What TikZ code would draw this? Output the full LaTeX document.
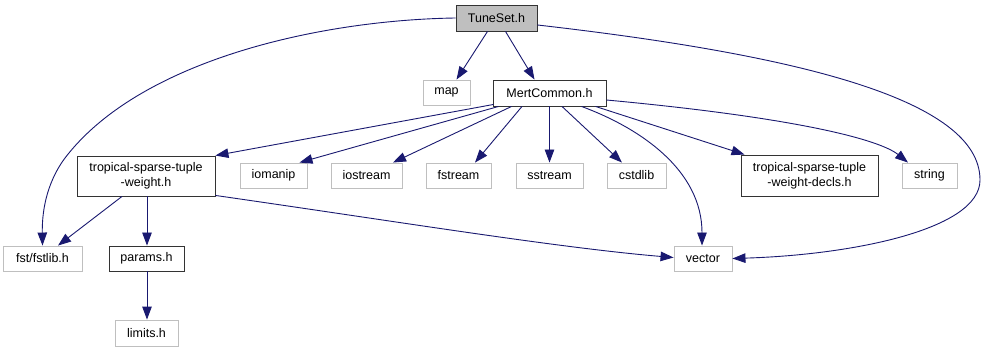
\documentclass[tikz,border=0pt]{standalone}
\usepackage{fontspec}
\setmainfont{Liberation Sans}
\usetikzlibrary{arrows.meta}
\definecolor{edgeblue}{HTML}{191970}
\definecolor{extgray}{HTML}{BFBFBF}
\definecolor{curfill}{HTML}{BFBFBF}
\begin{document}
\begin{tikzpicture}[x=1pt,y=-1pt,
  file/.style={draw=black!80, line width=0.9pt, fill=white, inner sep=0pt,
    align=center, font=\fontsize{12.5}{15}\selectfont},
  extfile/.style={file, draw=extgray},
  curfile/.style={file, fill=curfill},
  dep/.style={draw=edgeblue, line width=0.9pt,
    -{Triangle[length=13pt,width=9.5pt,fill=edgeblue]}}]
\useasboundingbox[fill=white] (0,0) rectangle (984,352);

% files
\node[curfile, minimum width=81pt, minimum height=26pt] (tune) at (496.5,18) {TuneSet.h};
\node[extfile, minimum width=47pt, minimum height=25pt] (map) at (446.5,92.5) {map};
\node[file, minimum width=113pt, minimum height=26pt] (mert) at (549.5,93) {MertCommon.h};
\node[file, minimum width=138pt, minimum height=40pt] (tstw) at (146,176) {tropical-sparse-tuple\\-weight.h};
\node[extfile, minimum width=67pt, minimum height=25pt] (iomanip) at (273.5,175.5) {iomanip};
\node[extfile, minimum width=71pt, minimum height=25pt] (iostream) at (366.5,175.5) {iostream};
\node[extfile, minimum width=65pt, minimum height=25pt] (fstream) at (458.5,175.5) {fstream};
\node[extfile, minimum width=67pt, minimum height=25pt] (sstream) at (549.5,175.5) {sstream};
\node[extfile, minimum width=59pt, minimum height=25pt] (cstdlib) at (636.5,175.5) {cstdlib};
\node[file, minimum width=137pt, minimum height=41pt] (decls) at (809.5,175.5) {tropical-sparse-tuple\\-weight-decls.h};
\node[extfile, minimum width=55pt, minimum height=25pt] (string) at (929.5,175.5) {string};
\node[extfile, minimum width=58pt, minimum height=25pt] (vector) at (703,258.5) {vector};
\node[extfile, minimum width=79pt, minimum height=25pt] (fstlib) at (42.5,258.5) {fst/fstlib.h};
\node[file, minimum width=75pt, minimum height=25pt] (params) at (146.5,258.5) {params.h};
\node[extfile, minimum width=63pt, minimum height=26pt] (limits) at (146.5,333) {limits.h};

% includes of TuneSet.h
\draw[dep] ([xshift=-9pt]tune.south) -- ([xshift=10pt]map.north);
\draw[dep] ([xshift=9pt]tune.south) -- ([xshift=-15pt]mert.north);
\draw[dep] (tune.west) .. controls (320,20) and (140,60) .. (65,158)
  .. controls (45,185) and (42,215) .. (fstlib.north);
\draw[dep] ([yshift=-7pt]tune.east) .. controls (800,55) and (980,100) .. (980,180)
  .. controls (980,230) and (850,255) .. (vector.east);

% includes of MertCommon.h
\draw[dep] ([xshift=1pt,yshift=2pt]mert.south west) -- (tstw.north east);
\draw[dep] ([xshift=6pt]mert.south west) -- ([xshift=26pt]iomanip.north);
\draw[dep] ([xshift=19pt]mert.south west) -- ([xshift=26.5pt]iostream.north);
\draw[dep] ([xshift=-27.5pt]mert.south) -- ([xshift=16.5pt]fstream.north);
\draw[dep] (mert.south) -- (sstream.north);
\draw[dep] ([xshift=12.5pt]mert.south) -- ([xshift=-14.5pt]cstdlib.north);
\draw[dep] ([xshift=32pt]mert.south) .. controls (640,128) and (702,170) .. ([xshift=-1pt]vector.north);
\draw[dep] ([xshift=46pt]mert.south) -- ([xshift=-65pt]decls.north);
\draw[dep] ([yshift=-7pt]mert.east) .. controls (800,118) and (880,140) .. ([xshift=-21.5pt]string.north);

% includes of tropical-sparse-tuple-weight.h
\draw[dep] ([xshift=-24pt]tstw.south) -- ([xshift=15.5pt]fstlib.north);
\draw[dep] ([xshift=1pt]tstw.south) -- ([xshift=0.5pt]params.north);
\draw[dep] ([yshift=1pt]tstw.south east) .. controls (400,222) and (560,248) .. ([yshift=1pt]vector.west);

% includes of params.h
\draw[dep] ([xshift=0.5pt]params.south) -- ([xshift=0.5pt]limits.north);
\end{tikzpicture}
\end{document}
